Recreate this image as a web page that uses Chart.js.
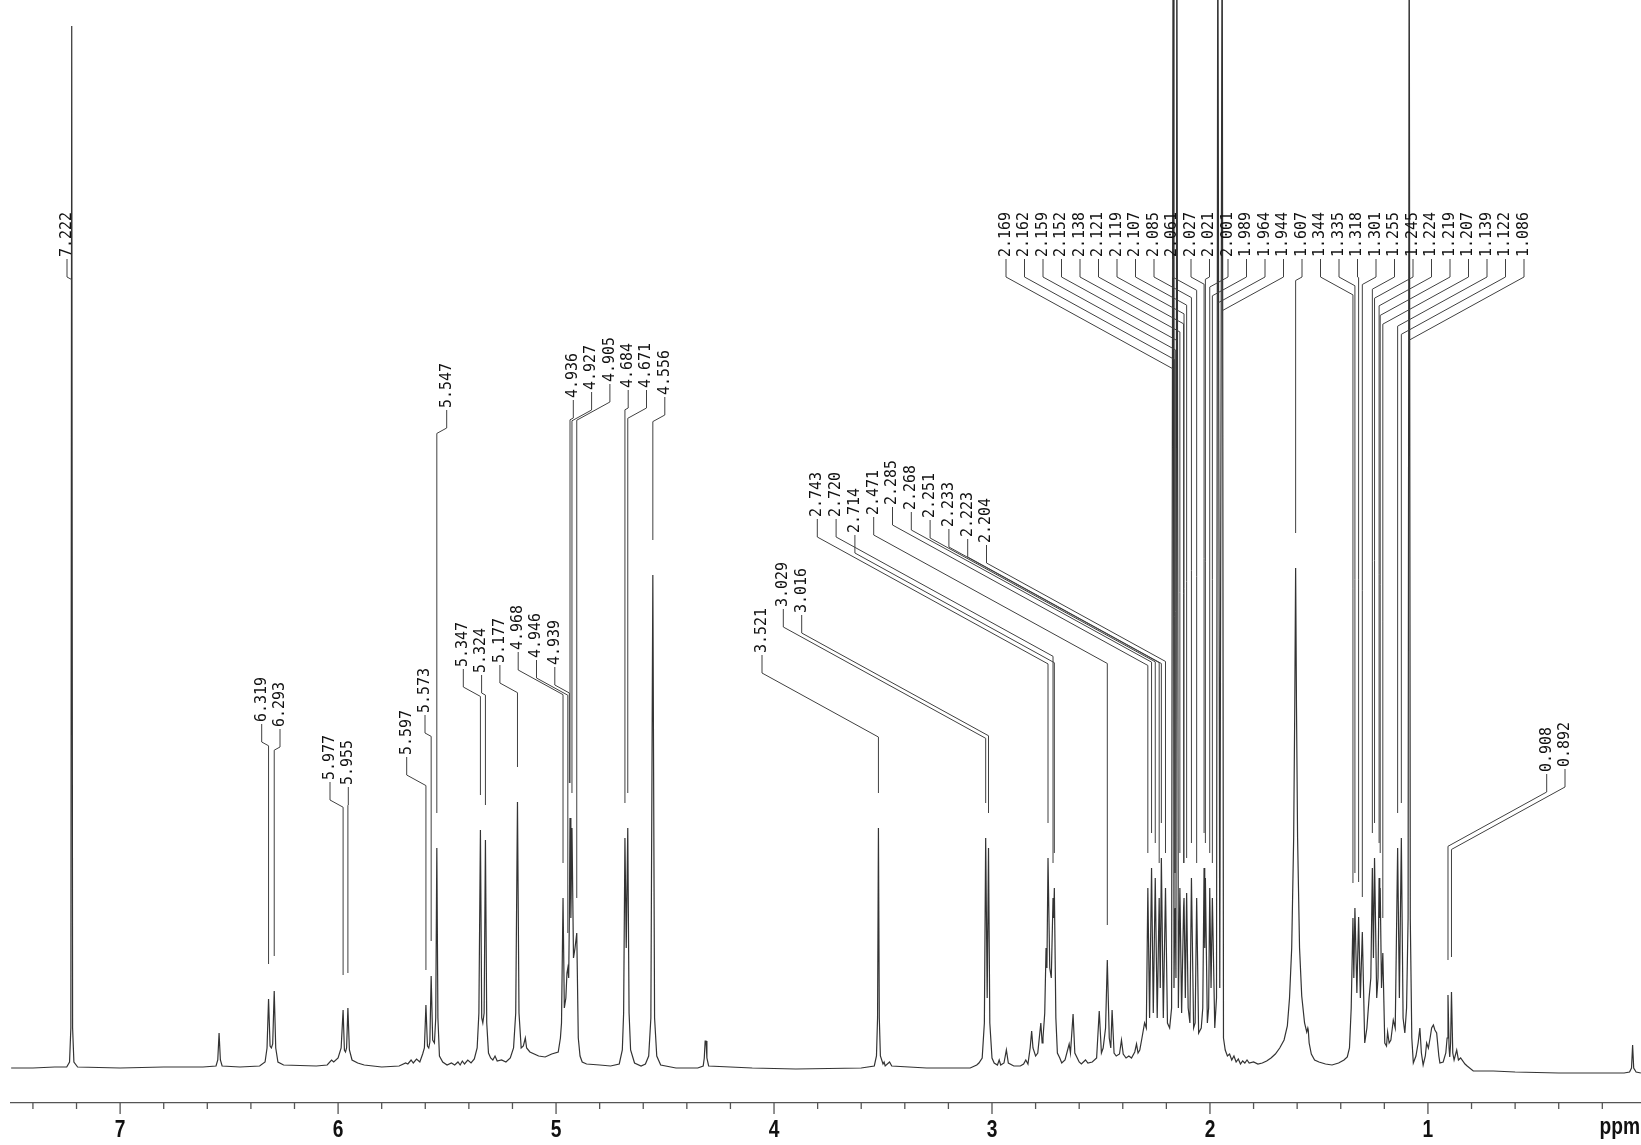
<!DOCTYPE html>
<html>
<head>
<meta charset="utf-8">
<title>1H NMR spectrum</title>
<script src="https://cdn.jsdelivr.net/npm/chart.js@4.4.1/dist/chart.umd.min.js"></script>
<style>
  html, body { margin: 0; padding: 0; background: #fff; }
  #wrap { width: 1641px; height: 1145px; }
</style>
</head>
<body>
<div id="wrap"><canvas id="nmrChart" width="1641" height="1145"></canvas></div>
<script>
// spectrum trace: [shift (ppm), intensity (arb. units, 0 = baseline)]
const traceSolvent = [
  [7.500, 0], [7.400, 0], [7.300, 1], [7.245, 1], [7.232, 6], [7.226, 40], [7.222, 1042],
  [7.218, 40], [7.212, 6], [7.195, 1], [7.000, 0], [6.800, 1], [6.620, 1], [6.560, 2],
  [6.552, 8], [6.546, 35], [6.540, 8], [6.532, 2], [6.450, 1]
];
const traceOlefinic = [
  [6.360, 2], [6.335, 6], [6.326, 20], [6.319, 69], [6.312, 22], [6.306, 20], [6.300, 24],
  [6.293, 77], [6.286, 20], [6.276, 6], [6.250, 3], [6.100, 2], [6.050, 3], [6.030, 8],
  [6.020, 6], [6.000, 10], [5.986, 20], [5.977, 58], [5.971, 18], [5.966, 16], [5.961, 20],
  [5.955, 60], [5.948, 18], [5.936, 8], [5.910, 5], [5.880, 3], [5.800, 1], [5.720, 2],
  [5.690, 5], [5.680, 4], [5.665, 8], [5.655, 5], [5.640, 9], [5.625, 6], [5.612, 14],
  [5.604, 20], [5.597, 63], [5.590, 22], [5.584, 20], [5.579, 26], [5.573, 92], [5.566, 28],
  [5.558, 25], [5.552, 50], [5.547, 220], [5.542, 50], [5.535, 12], [5.520, 6], [5.500, 3],
  [5.480, 5], [5.465, 3], [5.450, 6], [5.440, 3], [5.430, 7], [5.420, 4], [5.405, 8],
  [5.390, 5], [5.375, 9], [5.362, 20], [5.354, 55], [5.347, 238], [5.341, 50], [5.336, 45],
  [5.330, 55], [5.324, 228], [5.318, 45], [5.310, 15], [5.300, 10], [5.290, 8], [5.280, 12],
  [5.270, 7], [5.250, 8], [5.230, 6], [5.210, 10], [5.195, 20], [5.185, 55], [5.177, 266],
  [5.170, 55], [5.160, 20], [5.150, 22], [5.141, 30], [5.135, 20], [5.120, 16], [5.080, 12],
  [5.050, 11], [5.020, 14]
];
const traceOxygenated = [
  [4.990, 16], [4.980, 30], [4.975, 45], [4.968, 170], [4.962, 60], [4.955, 70], [4.950, 95],
  [4.946, 100], [4.942, 90], [4.939, 150], [4.936, 250], [4.932, 150], [4.927, 240],
  [4.920, 110], [4.913, 120], [4.905, 135], [4.898, 30], [4.890, 12], [4.880, 6], [4.860, 4],
  [4.800, 3], [4.750, 2], [4.710, 4], [4.696, 18], [4.690, 55], [4.684, 230], [4.678, 120],
  [4.671, 240], [4.665, 55], [4.658, 18], [4.640, 5], [4.610, 2], [4.590, 4], [4.575, 12],
  [4.565, 50], [4.556, 493], [4.548, 50], [4.538, 12], [4.520, 3], [4.450, 0], [4.350, 0],
  [4.325, 2], [4.320, 10], [4.316, 27], [4.312, 27], [4.308, 10], [4.300, 2], [4.100, 0],
  [3.900, -1], [3.600, 0], [3.540, 2], [3.530, 12], [3.525, 50], [3.521, 240], [3.517, 50],
  [3.512, 12], [3.500, 4], [3.495, 6], [3.490, 2], [3.470, 6], [3.460, 2], [3.300, 0],
  [3.100, 0], [3.070, 3], [3.060, 5], [3.045, 10], [3.035, 45], [3.029, 230], [3.022, 70],
  [3.016, 220], [3.010, 45], [3.000, 10]
];
const traceAllylic = [
  [2.990, 5], [2.975, 3], [2.967, 8], [2.960, 3], [2.945, 5], [2.934, 18], [2.925, 5],
  [2.900, 2], [2.870, 2], [2.855, 4], [2.845, 8], [2.835, 4], [2.825, 20], [2.818, 37],
  [2.812, 20], [2.800, 12], [2.790, 15], [2.776, 45], [2.770, 25], [2.766, 30], [2.758, 55],
  [2.752, 120], [2.748, 100], [2.743, 210], [2.735, 100], [2.728, 90], [2.720, 170],
  [2.717, 150], [2.714, 180], [2.707, 50], [2.700, 15], [2.689, 10], [2.680, 5], [2.665, 8],
  [2.646, 24], [2.640, 15], [2.628, 54], [2.620, 15], [2.600, 6], [2.590, 4], [2.571, 8],
  [2.560, 5], [2.540, 6], [2.520, 10], [2.508, 57], [2.498, 15], [2.490, 20], [2.479, 40],
  [2.471, 108], [2.462, 30], [2.455, 20], [2.449, 58], [2.440, 15], [2.430, 12], [2.415, 14],
  [2.406, 28], [2.398, 14], [2.385, 10], [2.372, 12], [2.360, 10], [2.345, 16], [2.337, 24],
  [2.330, 15], [2.322, 18], [2.312, 30], [2.300, 45], [2.292, 40], [2.285, 180], [2.277, 50],
  [2.268, 200], [2.260, 55], [2.251, 190], [2.242, 50], [2.233, 170], [2.228, 80],
  [2.223, 210], [2.214, 50], [2.204, 180], [2.195, 45], [2.185, 40], [2.176, 60],
  [2.169, 1200], [2.165, 80], [2.162, 150], [2.159, 160], [2.156, 90], [2.152, 1200],
  [2.145, 60], [2.138, 180], [2.130, 55], [2.121, 160], [2.119, 170], [2.113, 70],
  [2.107, 175], [2.100, 60], [2.092, 45], [2.085, 190], [2.075, 40], [2.068, 45],
  [2.061, 170], [2.052, 35], [2.040, 40], [2.033, 60], [2.027, 200], [2.024, 120],
  [2.021, 190], [2.012, 45], [2.006, 60], [2.001, 180], [1.995, 80], [1.989, 170],
  [1.978, 40], [1.970, 70], [1.964, 1200], [1.955, 80], [1.944, 1200], [1.938, 30],
  [1.930, 18], [1.920, 12]
];
const traceAliphatic = [
  [1.910, 14], [1.900, 8], [1.890, 12], [1.880, 6], [1.870, 9], [1.860, 4], [1.850, 7],
  [1.840, 5], [1.830, 8], [1.820, 5], [1.800, 6], [1.780, 4], [1.760, 5], [1.740, 7],
  [1.720, 10], [1.700, 14], [1.680, 20], [1.660, 28], [1.645, 42], [1.635, 70], [1.625, 120],
  [1.616, 230], [1.611, 360], [1.607, 500], [1.603, 360], [1.598, 230], [1.589, 120],
  [1.579, 72], [1.566, 45], [1.556, 36], [1.551, 40], [1.549, 38], [1.545, 25], [1.535, 14],
  [1.520, 8], [1.500, 6], [1.470, 4], [1.440, 3], [1.410, 5], [1.385, 8], [1.370, 11],
  [1.360, 20], [1.352, 60], [1.344, 150], [1.340, 90], [1.335, 160], [1.326, 75],
  [1.318, 151], [1.310, 70], [1.301, 136], [1.290, 25], [1.280, 40], [1.270, 70],
  [1.262, 90], [1.255, 200], [1.250, 110], [1.245, 210], [1.235, 70], [1.229, 90],
  [1.224, 190], [1.221, 150], [1.219, 180], [1.213, 80], [1.207, 115], [1.198, 25],
  [1.190, 22], [1.185, 36], [1.178, 25], [1.170, 28], [1.159, 48], [1.150, 40], [1.139, 220],
  [1.131, 70], [1.122, 230], [1.114, 50], [1.106, 35], [1.098, 60], [1.091, 150],
  [1.086, 1200], [1.081, 150], [1.074, 30], [1.067, 5], [1.055, 12], [1.045, 25], [1.037, 40],
  [1.030, 15], [1.022, 3], [1.012, 12], [1.006, 25], [0.998, 20], [0.990, 30], [0.983, 40],
  [0.975, 43], [0.968, 38], [0.960, 35], [0.950, 12], [0.945, 5], [0.930, 6], [0.918, 15],
  [0.912, 30], [0.908, 73], [0.903, 20], [0.900, 11], [0.896, 25], [0.892, 76], [0.886, 15],
  [0.880, 8], [0.868, 18], [0.860, 8], [0.850, 10], [0.830, 4], [0.820, 2], [0.792, -3],
  [0.700, -3], [0.600, -4], [0.400, -5], [0.200, -5], [0.100, -5], [0.075, -4], [0.066, 0],
  [0.061, 23], [0.056, 0], [0.045, -4], [0.023, -5]
];

// picked peaks, one array per label cluster
const peakLabels = [
  [7.222],
  [6.319, 6.293],
  [5.977, 5.955],
  [5.597],
  [5.573],
  [5.547],
  [5.347, 5.324, 5.177, 4.968, 4.946, 4.939],
  [4.936, 4.927, 4.905, 4.684, 4.671, 4.556],
  [3.521],
  [3.029, 3.016],
  [2.743, 2.720, 2.714, 2.471, 2.285, 2.268, 2.251, 2.233, 2.223, 2.204],
  [2.169, 2.162, 2.159, 2.152, 2.138, 2.121, 2.119, 2.107, 2.085, 2.061, 2.027, 2.021, 2.001,
   1.989, 1.964, 1.944, 1.607, 1.344, 1.335, 1.318, 1.301, 1.255, 1.245, 1.224, 1.219, 1.207,
   1.139, 1.122, 1.086],
  [0.908, 0.892]
];

const axisMajorTicks = [1, 2, 3, 4, 5, 6, 7];
const axisMinorStep = 0.2;

// where each label cluster sits on the page (px)
const labelLayout = [
  { x0: 67, step: 18.4, bottom: [257] },
  { x0: 261.7, step: 18.3, bottom: [722, 727] },
  { x0: 330, step: 18.3, bottom: [780, 785] },
  { x0: 406.7, step: 18.3, bottom: [755] },
  { x0: 425, step: 18.3, bottom: [713] },
  { x0: 446.7, step: 18.3, bottom: [408] },
  { x0: 463.3, step: 18.3, bottom: [667, 673, 663, 650, 658, 665] },
  { x0: 573.3, step: 18.3, bottom: [398, 390, 382, 388, 388, 395] },
  { x0: 762, step: 18.3, bottom: [653] },
  { x0: 783.3, step: 18.4, bottom: [607, 613] },
  { x0: 817.3, step: 18.8, bottom: [517, 517, 533, 515, 505, 510, 518, 527, 537, 543] },
  { x0: 1006, step: 18.5, bottom: [257] },
  { x0: 1546.7, step: 18.3, bottom: [772, 767] }
];

const trace = [].concat(traceSolvent, traceOlefinic, traceOxygenated, traceAllylic, traceAliphatic);
const points = trace.map(p => ({ x: p[0], y: p[1] }));

function apexAt(ppm) {
  let best = 0;
  trace.forEach(p => {
    if (Math.abs(p[0] - ppm) < 0.0035 && p[1] > best) best = p[1];
  });
  return best;
}

function isMajor(v) {
  return axisMajorTicks.some(m => Math.abs(m - v) < 1e-6);
}

const peakLabelPlugin = {
  id: 'peakLabels',
  afterDatasetsDraw(chart) {
    const ctx = chart.ctx;
    const xs = chart.scales.x;
    const ys = chart.scales.y;
    ctx.save();
    ctx.strokeStyle = '#404040';
    ctx.lineWidth = 1;
    ctx.fillStyle = '#111';
    ctx.font = '15px "DejaVu Sans Mono", monospace';
    peakLabels.forEach((group, g) => {
      const lay = labelLayout[g];
      group.forEach((ppm, i) => {
        const lx = lay.x0 + i * lay.step;
        const tb = lay.bottom.length > i ? lay.bottom[i] : lay.bottom[0];
        const k1 = tb + 20;
        const px = xs.getPixelForValue(ppm);
        const k2 = k1 + 0.55 * Math.abs(px - lx);
        const topY = ys.getPixelForValue(apexAt(ppm));
        const end = Math.max(k2, topY - 35);
        ctx.beginPath();
        ctx.moveTo(lx, tb + 2);
        ctx.lineTo(lx, k1);
        ctx.lineTo(px, k2);
        ctx.lineTo(px, end);
        ctx.stroke();

        ctx.save();
        ctx.translate(lx, tb);
        ctx.rotate(-Math.PI / 2);
        ctx.textAlign = 'left';
        ctx.textBaseline = 'middle';
        ctx.fillText(ppm.toFixed(3), 0, 0);
        ctx.restore();
      });
    });
    ctx.restore();
  },
  afterDraw(chart) {
    const ctx = chart.ctx;
    const xs = chart.scales.x;
    const bottom = chart.chartArea.bottom;
    ctx.save();
    ctx.strokeStyle = '#555';
    ctx.lineWidth = 1.3;
    for (let v = axisMinorStep; v < xs.max; v += axisMinorStep) {
      if (v < xs.min) continue;
      const x = xs.getPixelForValue(v);
      const len = isMajor(v) ? 11 : 6;
      ctx.beginPath();
      ctx.moveTo(x, bottom);
      ctx.lineTo(x, bottom + len);
      ctx.stroke();
    }
    // condensed bold tick labels
    ctx.fillStyle = '#111';
    ctx.font = 'bold 24px "Liberation Sans", Arial, sans-serif';
    ctx.textBaseline = 'alphabetic';
    const drawNarrow = (text, x, y, align) => {
      ctx.save();
      ctx.translate(x, y);
      ctx.scale(0.8, 1);
      ctx.textAlign = align;
      ctx.fillText(text, 0, 0);
      ctx.restore();
    };
    axisMajorTicks.forEach(v => {
      drawNarrow(String(v), xs.getPixelForValue(v), bottom + 34, 'center');
    });
    drawNarrow('ppm', 1640, bottom + 31, 'right');
    ctx.restore();
  }
};

const chart = new Chart(document.getElementById('nmrChart').getContext('2d'), {
  type: 'line',
  data: {
    datasets: [{
      data: points,
      borderColor: '#333333',
      borderWidth: 1.2,
      pointRadius: 0,
      tension: 0,
      fill: false
    }]
  },
  options: {
    responsive: false,
    animation: false,
    devicePixelRatio: 1,
    layout: { padding: { left: 11, right: 0, top: 0, bottom: 0 } },
    plugins: { legend: { display: false }, tooltip: { enabled: false } },
    scales: {
      x: {
        type: 'linear',
        reverse: true,
        min: 0.0225,
        max: 7.5006,
        afterFit: scale => { scale.height = 42; },
        border: { display: true, color: '#555', width: 1.3 },
        grid: { display: false },
        ticks: { display: false, stepSize: 1 }
      },
      y: { display: false, min: -35, max: 1068 }
    }
  },
  plugins: [peakLabelPlugin]
});
</script>
</body>
</html>
